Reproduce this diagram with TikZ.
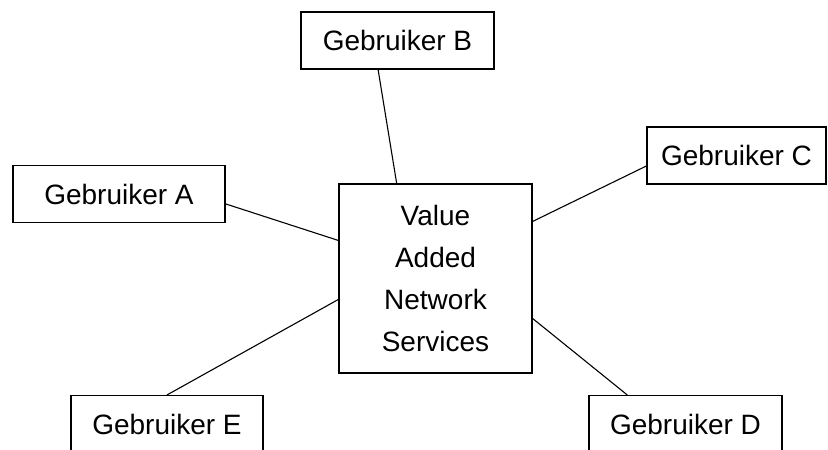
\documentclass[tikz,border=0pt]{standalone}
\usepackage{fontspec}
\setmainfont{Liberation Sans}
\usetikzlibrary{calc}

\begin{document}
\begin{tikzpicture}[x=1pt, y=-1pt,
  user/.style={draw=black, line width=1.1pt, fill=white, inner sep=0pt,
    font=\fontsize{28}{42}\selectfont, minimum height=57pt},
  hub/.style={user, align=center, minimum width=193pt, minimum height=189pt},
  link/.style={line width=1.1pt, draw=black}]
\useasboundingbox (0,0) rectangle (828,450);
% the users round the network
\node[user, minimum width=193pt] (gb) at (397.5,40.5) {Gebruiker B};
\node[user, minimum width=212pt] (ga) at (119,194) {Gebruiker A};
\node[user, minimum width=179pt] (gc) at (736.5,155.5) {Gebruiker C};
\node[user, minimum width=192pt] (ge) at (167,424) {Gebruiker E};
\node[user, minimum width=193pt] (gd) at (685.5,424) {Gebruiker D};
% the value added network
\node[hub] (van) at (435.5,278.5) {Value\\Added\\Network\\Services};
\draw[link] ($(gb.south west)!0.40!(gb.south east)$) -- ($(van.north west)!0.30!(van.north east)$);
\draw[link] ($(ga.north east)!0.67!(ga.south east)$) -- ($(van.north west)!0.30!(van.south west)$);
\draw[link] ($(gc.north west)!0.68!(gc.south west)$) -- ($(van.north east)!0.20!(van.south east)$);
\draw[link] (ge.north) -- ($(van.north west)!0.61!(van.south west)$);
\draw[link] ($(gd.north west)!0.20!(gd.north east)$) -- ($(van.north east)!0.71!(van.south east)$);
\end{tikzpicture}
\end{document}
